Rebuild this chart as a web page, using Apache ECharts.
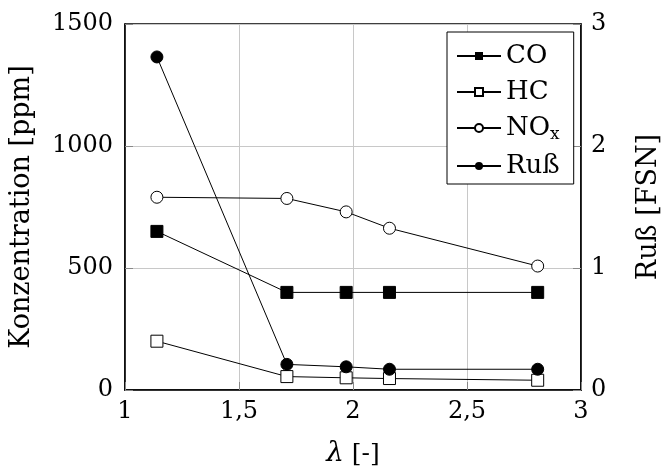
<!DOCTYPE html>
<html>
<head>
<meta charset="utf-8">
<script src="https://cdn.jsdelivr.net/npm/echarts@6/dist/echarts.min.js"></script>
<style>
  html, body { margin: 0; padding: 0; background: #fff; }
  #main { width: 670px; height: 473px; }
</style>
</head>
<body>
<div id="main"></div>
<script>
// Luftverhaeltnis lambda
var lambda = [1.14, 1.71, 1.97, 2.16, 2.81];
var co = [650, 400, 400, 400, 400];
var hc = [200, 55, 50, 47, 40];
var nox = [790, 785, 730, 663, 508];
var russ = [2.73, 0.21, 0.19, 0.17, 0.17];

var xTicks = ['1', '1,5', '2', '2,5', '3'];

function pairs(xs, ys) {
    return xs.map(function(x, i) { return [x, ys[i]]; });
}

var font = 'DejaVu Serif';
var chart = echarts.init(document.getElementById('main'));

var lineStyle = { color: '#000', width: 1 };

var option = {
    backgroundColor: '#fff',
    animation: false,
    textStyle: { fontFamily: font, color: '#000' },
    grid: {
        left: 122, right: 82, top: 24, bottom: 76,
        show: true, borderColor: '#000', borderWidth: 1.5
    },
    legend: {
        left: 447, top: 32,
        orient: 'vertical',
        backgroundColor: '#fff',
        borderColor: '#000',
        borderWidth: 1,
        borderRadius: 0,
        padding: [11, 14, 5, 9],
        itemWidth: 44,
        itemHeight: 10,
        itemGap: 10,
        data: ['CO', 'HC', 'NOx', 'Ruß'],
        formatter: function(name) {
            if (name === 'NOx') return '{a|NO}{s|x}';
            return '{a|' + name + '}';
        },
        textStyle: {
            fontFamily: font,
            color: '#000',
            rich: {
                a: { fontFamily: font, fontSize: 26, color: '#000', lineHeight: 30 },
                s: { fontFamily: font, fontSize: 17, color: '#000', lineHeight: 17, verticalAlign: 'bottom' }
            }
        }
    },
    xAxis: {
        type: 'value',
        min: 1, max: 3, interval: 0.5,
        name: '{i|λ} [-]',
        nameLocation: 'middle',
        nameGap: 50,
        nameTextStyle: {
            fontFamily: font, fontSize: 25, color: '#000',
            rich: { i: { fontFamily: font, fontStyle: 'italic', fontSize: 28, color: '#000' } }
        },
        axisLine: { lineStyle: { color: '#000', width: 1.5 } },
        axisTick: { inside: true, length: 8, lineStyle: { color: '#888' } },
        axisLabel: {
            fontFamily: font, fontSize: 24, color: '#000', margin: 10,
            formatter: function(v) { return xTicks[Math.round((v - 1) / 0.5)]; }
        },
        splitLine: { show: true, lineStyle: { color: '#c8c8c8', width: 1 } }
    },
    yAxis: [{
        type: 'value',
        min: 0, max: 1500, interval: 500,
        name: 'Konzentration [ppm]',
        nameLocation: 'middle',
        nameGap: 90,
        nameTextStyle: { fontFamily: font, fontSize: 27, color: '#000' },
        axisLine: { show: true, lineStyle: { color: '#000', width: 1.5 } },
        axisTick: { show: true, inside: true, length: 8, lineStyle: { color: '#888' } },
        axisLabel: {
            fontFamily: font, fontSize: 24, color: '#000', margin: 12,
            formatter: function(v) { return String(v); }
        },
        splitLine: { show: true, lineStyle: { color: '#c8c8c8', width: 1 } }
    }, {
        type: 'value',
        min: 0, max: 3, interval: 1,
        position: 'right',
        name: 'Ruß [FSN]',
        nameLocation: 'middle',
        nameGap: 54,
        nameTextStyle: { fontFamily: font, fontSize: 27, color: '#000' },
        axisLine: { show: true, lineStyle: { color: '#000', width: 1.5 } },
        axisTick: { show: true, inside: true, length: 8, lineStyle: { color: '#888' } },
        axisLabel: { fontFamily: font, fontSize: 24, color: '#000', margin: 10 },
        splitLine: { show: false }
    }],
    series: [{
        name: 'CO', type: 'line', yAxisIndex: 0,
        data: pairs(lambda, co),
        symbol: 'rect', symbolSize: 12,
        lineStyle: lineStyle,
        itemStyle: { color: '#000', borderColor: '#000' }
    }, {
        name: 'HC', type: 'line', yAxisIndex: 0,
        data: pairs(lambda, hc),
        symbol: 'rect', symbolSize: 12,
        lineStyle: lineStyle,
        itemStyle: { color: '#fff', borderColor: '#000', borderWidth: 1 }
    }, {
        name: 'NOx', type: 'line', yAxisIndex: 0,
        data: pairs(lambda, nox),
        symbol: 'circle', symbolSize: 12,
        lineStyle: lineStyle,
        itemStyle: { color: '#fff', borderColor: '#000', borderWidth: 1 }
    }, {
        name: 'Ruß', type: 'line', yAxisIndex: 1,
        data: pairs(lambda, russ),
        symbol: 'circle', symbolSize: 12,
        lineStyle: lineStyle,
        itemStyle: { color: '#000', borderColor: '#000' }
    }]
};

chart.setOption(option);
</script>
</body>
</html>
